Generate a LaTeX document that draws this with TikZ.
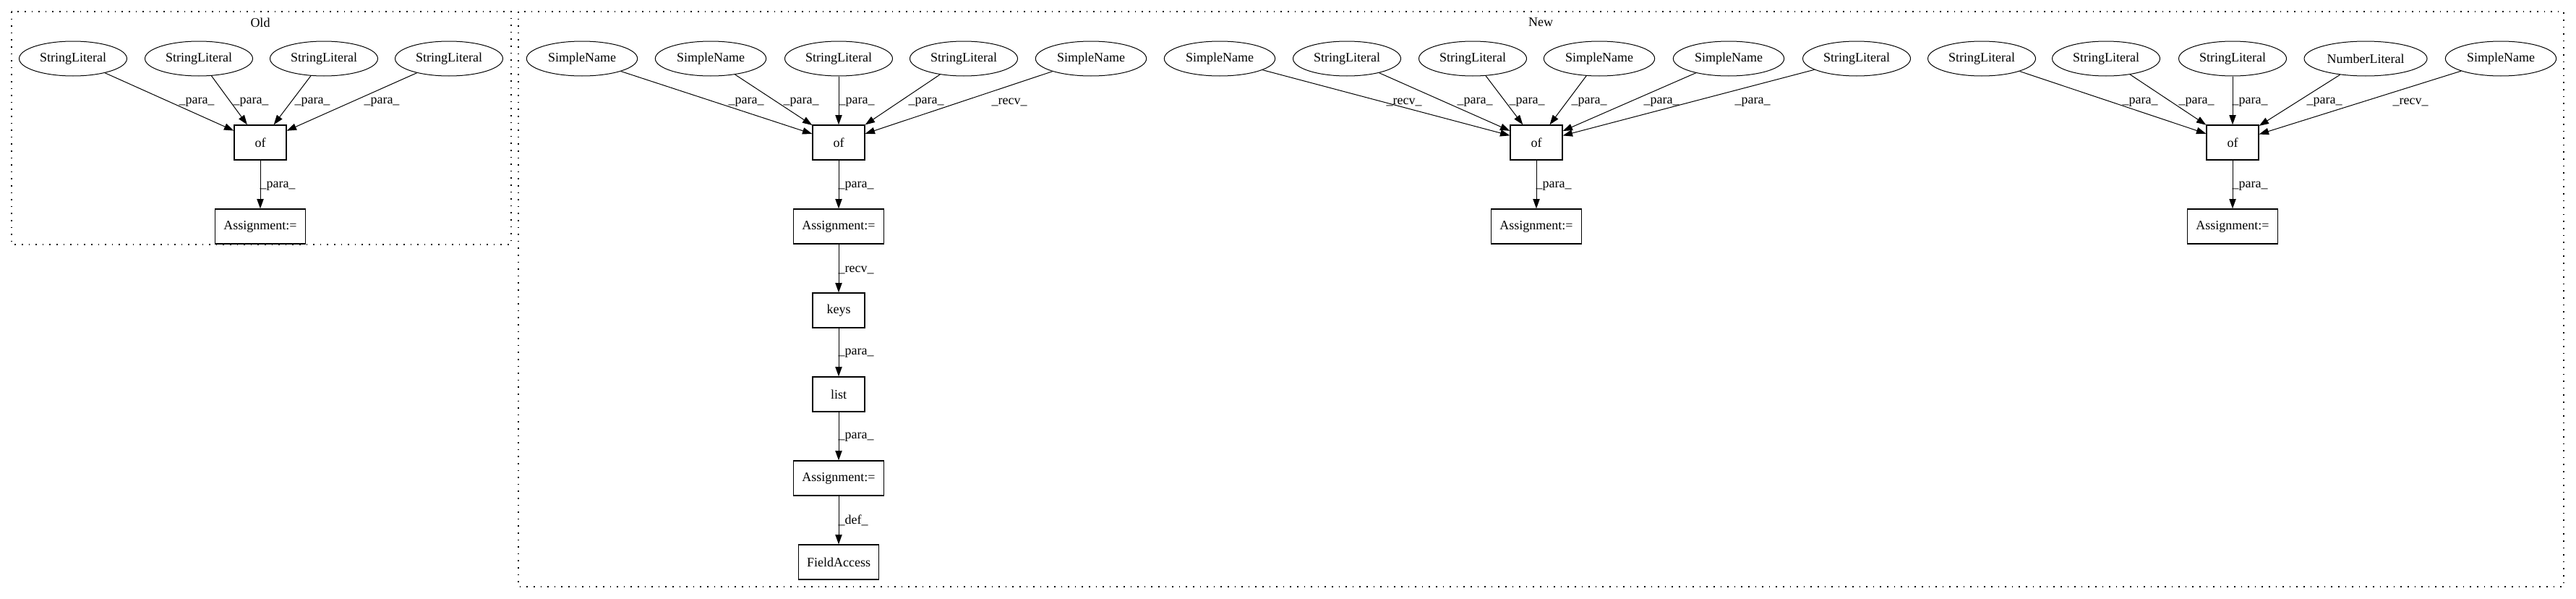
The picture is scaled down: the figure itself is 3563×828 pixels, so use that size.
\documentclass[tikz,border=0pt]{standalone}
\usepackage{fontspec}
\setmainfont{Liberation Serif}
\usetikzlibrary{shapes.geometric,arrows.meta}
\begin{document}
\begin{tikzpicture}[x=0.75pt,y=-0.75pt,
  every node/.style={font=\fontsize{13.5}{16}\selectfont},
  ell/.style={ellipse,draw,line width=0.75pt,minimum height=36pt,inner sep=0pt},
  sl/.style={ell,minimum width=111.75pt},
  sn/.style={ell,minimum width=115pt},
  nl/.style={ell,minimum width=127.5pt},
  box/.style={rectangle,draw,line width=1pt,minimum height=36pt,inner sep=0pt},
  sbox/.style={box,minimum width=54pt},
  abox/.style={box,minimum width=94pt},
  fbox/.style={box,minimum width=83pt},
  lbl/.style={inner sep=0pt},
  arr/.style={-{Triangle[length=10pt,width=7pt]},line width=0.75pt},
  cluster/.style={draw,line width=0.9pt,dash pattern=on 1.2pt off 6pt}
]
\useasboundingbox (0,0) rectangle (3563,828);
% clusters
\draw[cluster] (16,16) rectangle (707,338);
\draw[cluster] (717,16) rectangle (3546,811);
\node[lbl] (oldt) at (360,31) {Old};
\node[lbl] (newt) at (2131,31) {New};

% Old
\node[sl] (o1) at (101,81) {StringLiteral};
\node[sl] (o2) at (275,81) {StringLiteral};
\node[sl] (o3) at (448,81) {StringLiteral};
\node[sl] (o4) at (621,81) {StringLiteral};
\node[sbox] (oof) at (360,197) {of};
\node[abox] (oas) at (360,313) {Assignment:=};
\draw[arr] (o1) -- (oof);
\draw[arr] (o2) -- (oof);
\draw[arr] (o3) -- (oof);
\draw[arr] (o4) -- (oof);
\draw[arr] (oof) -- (oas);
\node[lbl] (ol1) at (272,141) {\_para\_};
\node[lbl] (ol2) at (347,141) {\_para\_};
\node[lbl] (ol3) at (432,141) {\_para\_};
\node[lbl] (ol4) at (528,141) {\_para\_};
\node[lbl] (ol5) at (384,257) {\_para\_};

% New group 1
\node[sn] (a1) at (805,81) {SimpleName};
\node[sn] (a2) at (983,81) {SimpleName};
\node[sl] (a3) at (1160,81) {StringLiteral};
\node[sl] (a4) at (1333,81) {StringLiteral};
\node[sn] (a5) at (1509,81) {SimpleName};
\node[sbox] (aof) at (1160,197) {of};
\node[abox] (aas) at (1160,313) {Assignment:=};
\node[sbox] (keys) at (1160,429) {keys};
\node[sbox] (list) at (1160,545) {list};
\node[abox] (aas2) at (1160,661) {Assignment:=};
\node[fbox] (fa) at (1160,777) {FieldAccess};
\draw[arr] (a1) -- (aof);
\draw[arr] (a2) -- (aof);
\draw[arr] (a3) -- (aof);
\draw[arr] (a4) -- (aof);
\draw[arr] (a5) -- (aof);
\draw[arr] (aof) -- (aas);
\draw[arr] (aas) -- (keys);
\draw[arr] (keys) -- (list);
\draw[arr] (list) -- (aas2);
\draw[arr] (aas2) -- (fa);
\node[lbl] (al1) at (1032,141) {\_para\_};
\node[lbl] (al2) at (1108,141) {\_para\_};
\node[lbl] (al3) at (1185,141) {\_para\_};
\node[lbl] (al4) at (1281,141) {\_para\_};
\node[lbl] (al5) at (1396,141) {\_recv\_};
\node[lbl] (al6) at (1184,257) {\_para\_};
\node[lbl] (al7) at (1184,373) {\_recv\_};
\node[lbl] (al8) at (1184,488) {\_para\_};
\node[lbl] (al9) at (1184,604) {\_para\_};
\node[lbl] (al10) at (1180,719) {\_def\_};

% New group 2
\node[sn] (b1) at (1687,81) {SimpleName};
\node[sl] (b2) at (1863,81) {StringLiteral};
\node[sl] (b3) at (2037,81) {StringLiteral};
\node[sn] (b4) at (2212,81) {SimpleName};
\node[sn] (b5) at (2391,81) {SimpleName};
\node[sl] (b6) at (2568,81) {StringLiteral};
\node[sbox] (bof) at (2125,197) {of};
\node[abox] (bas) at (2125,313) {Assignment:=};
\draw[arr] (b1) -- (bof);
\draw[arr] (b2) -- (bof);
\draw[arr] (b3) -- (bof);
\draw[arr] (b4) -- (bof);
\draw[arr] (b5) -- (bof);
\draw[arr] (b6) -- (bof);
\draw[arr] (bof) -- (bas);
\node[lbl] (bl1) at (1942,141) {\_recv\_};
\node[lbl] (bl2) at (2040,141) {\_para\_};
\node[lbl] (bl3) at (2112,141) {\_para\_};
\node[lbl] (bl4) at (2198,141) {\_para\_};
\node[lbl] (bl5) at (2298,141) {\_para\_};
\node[lbl] (bl6) at (2424,141) {\_para\_};
\node[lbl] (bl7) at (2149,257) {\_para\_};

% New group 3
\node[sl] (c1) at (2741,81) {StringLiteral};
\node[sl] (c2) at (2913,81) {StringLiteral};
\node[sl] (c3) at (3088,81) {StringLiteral};
\node[nl] (c4) at (3272,81) {NumberLiteral};
\node[sn] (c5) at (3459,81) {SimpleName};
\node[sbox] (cof) at (3088,197) {of};
\node[abox] (cas) at (3088,313) {Assignment:=};
\draw[arr] (c1) -- (cof);
\draw[arr] (c2) -- (cof);
\draw[arr] (c3) -- (cof);
\draw[arr] (c4) -- (cof);
\draw[arr] (c5) -- (cof);
\draw[arr] (cof) -- (cas);
\node[lbl] (cl1) at (2960,141) {\_para\_};
\node[lbl] (cl2) at (3038,141) {\_para\_};
\node[lbl] (cl3) at (3112,141) {\_para\_};
\node[lbl] (cl4) at (3215,141) {\_para\_};
\node[lbl] (cl5) at (3334,141) {\_recv\_};
\node[lbl] (cl6) at (3112,257) {\_para\_};
\end{tikzpicture}
\end{document}
